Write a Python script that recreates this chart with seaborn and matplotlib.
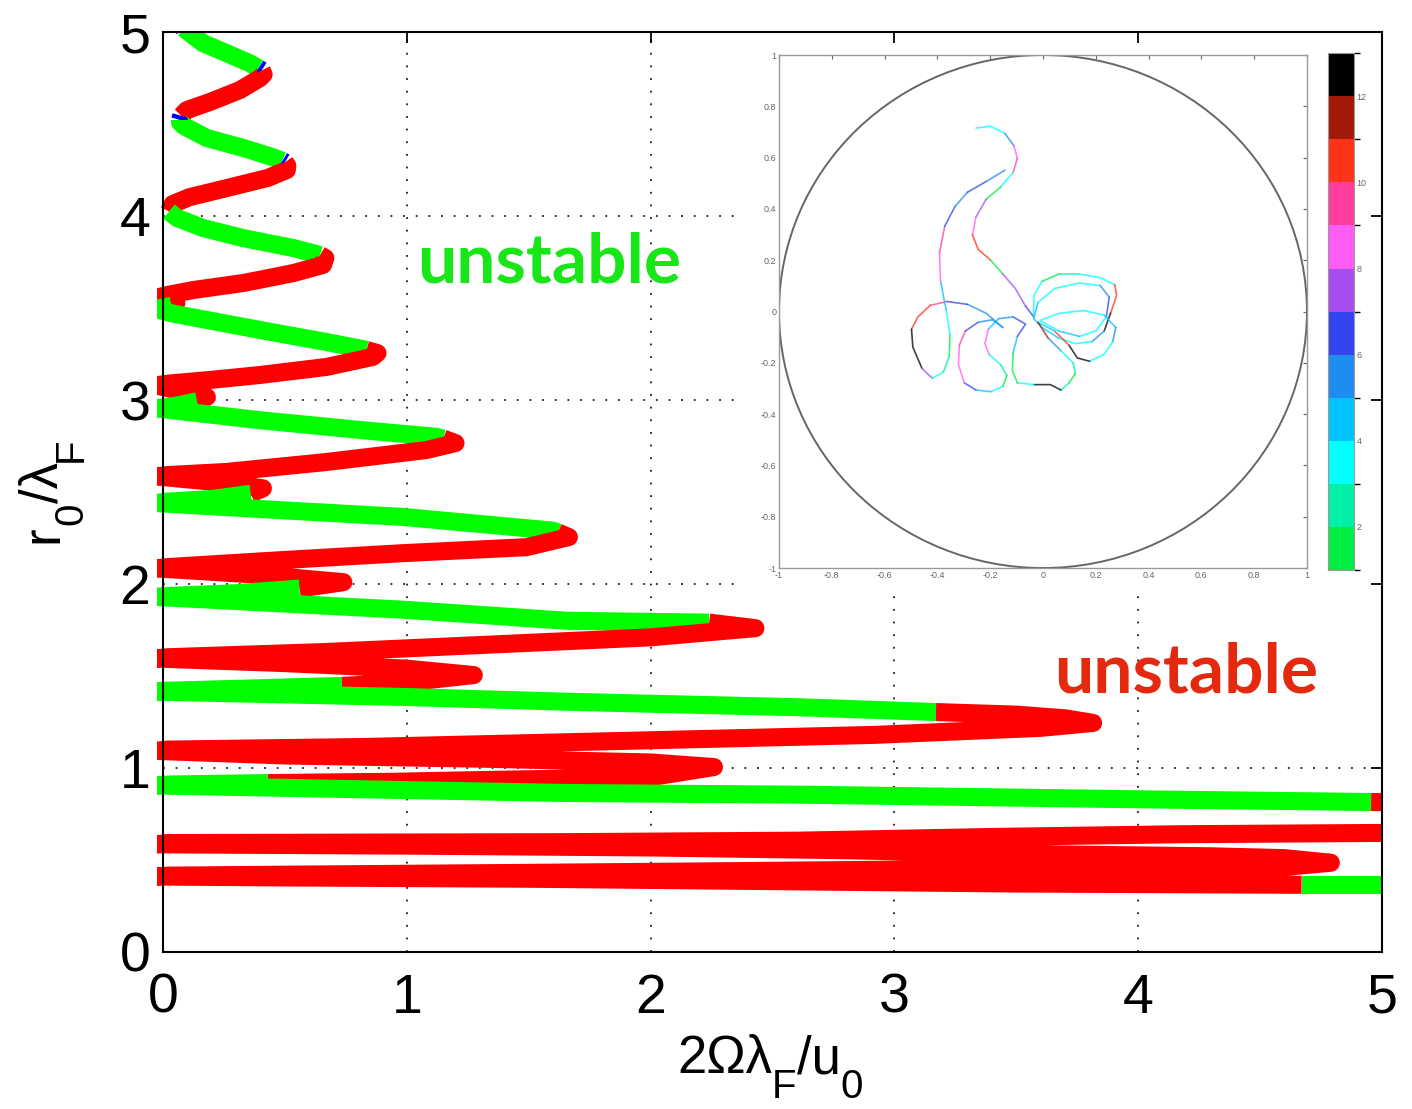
import matplotlib
matplotlib.use("Agg")
import matplotlib.pyplot as plt
import seaborn as sns
from matplotlib.patches import Rectangle, Circle
from matplotlib.colors import ListedColormap, BoundaryNorm
import matplotlib.cm as cm

sns.set_theme(style="white")
plt.rcParams['font.family'] = ['Liberation Sans', 'DejaVu Sans']
plt.rcParams['text.color'] = 'black'
plt.rcParams['axes.labelcolor'] = 'black'
plt.rcParams['xtick.color'] = 'black'
plt.rcParams['ytick.color'] = 'black'

# ---------------- main curve data (2*Omega*lambda_F/u0 , r0/lambda_F) ----------------
omega = [0.06, 0.085, 0.164, 0.26, 0.357, 0.392,
         0.405, 0.413, 0.398, 0.316, 0.193, 0.098, 0.075,
         0.07, 0.07, 0.085, 0.18, 0.33, 0.45, 0.49,
         0.5, 0.51, 0.508, 0.43, 0.262, 0.11, 0.04,
         0.025, 0.057, 0.164, 0.33, 0.535,
         0.645, 0.666, 0.656, 0.535, 0.33, 0.125, 0.015, -0.03, 0.055,
         0.035, -0.03, 0.04, 0.26, 0.467, 0.672, 0.808,
         0.835, 0.88, 0.86, 0.672, 0.398, 0.193, 0.03, -0.03, 0.08, 0.18,
         0.14, 0.05, -0.03, 0.1, 0.4, 0.81, 1.12,
         1.15, 1.2, 1.08, 0.67, 0.26, 0.02, -0.03, 0.25, 0.41,
         0.36, 0.2, 0.02, -0.03, 0.5, 0.99, 1.6,
         1.62, 1.665, 1.49, 0.99, 0.49, 0.02, -0.03, 0.4, 0.74,
         0.56, 0.3, 0.02, -0.03, 0.99, 1.66,
         2.24, 2.43, 2.0, 1.33, 0.66, 0.02, -0.03, 0.5, 1.0, 1.275, 1.0,
         0.734, 0.3, 0.02, -0.03, 0.99, 1.66, 2.61,
         3.17, 3.5, 3.7, 3.815, 3.6, 3.4, 2.92, 2.61, 1.66, 0.82, 0.02, -0.03, 0.5, 1.33,
         2.0, 2.26, 2.0, 1.33, 0.94,
         0.43, 0.02, -0.03, 0.99, 1.66, 2.61, 3.99,
         4.955, 5.15, 5.15, 5.0, 4.18, 3.4, 2.61, 1.66, 0.02, -0.03, 1.0, 2.0, 2.8, 3.5, 4.3,
         4.6, 4.79, 4.6, 4.0, 3.2, 2.4, 1.5, 0.5, 0.02, -0.03, 0.5, 1.5, 2.5, 3.5,
         4.67, 5.15]
r0 = [5.06, 5.02, 4.94, 4.886, 4.83, 4.803,
      4.792, 4.77, 4.75, 4.685, 4.62, 4.576, 4.545,
      4.522, 4.51, 4.49, 4.424, 4.37, 4.32, 4.30,
      4.292, 4.273, 4.25, 4.207, 4.152, 4.103, 4.065,
      4.025, 3.99, 3.935, 3.88, 3.826,
      3.788, 3.772, 3.734, 3.69, 3.636, 3.598, 3.57, 3.555, 3.528,
      3.512, 3.495, 3.47, 3.415, 3.364, 3.315, 3.28,
      3.272, 3.255, 3.234, 3.18, 3.136, 3.109, 3.09, 3.08, 3.045, 3.016,
      2.993, 2.968, 2.955, 2.935, 2.89, 2.837, 2.80,
      2.79, 2.766, 2.728, 2.663, 2.609, 2.592, 2.585, 2.55, 2.52,
      2.49, 2.462, 2.448, 2.44, 2.40, 2.364, 2.29,
      2.28, 2.255, 2.2, 2.168, 2.13, 2.092, 2.085, 2.05, 2.01,
      1.975, 1.95, 1.935, 1.93, 1.86, 1.80,
      1.79, 1.76, 1.71, 1.67, 1.63, 1.602, 1.595, 1.57, 1.54, 1.505, 1.465,
      1.446, 1.43, 1.42, 1.415, 1.386, 1.36, 1.33,
      1.304, 1.29, 1.27, 1.245, 1.218, 1.207, 1.18, 1.17, 1.14, 1.114, 1.10, 1.093, 1.068, 1.05,
      1.03, 1.005, 0.95, 0.935, 0.925,
      0.918, 0.91, 0.905, 0.88, 0.864, 0.855, 0.83,
      0.815, 0.812, 0.652, 0.647, 0.64, 0.625, 0.605, 0.597, 0.592, 0.585, 0.578, 0.568, 0.553, 0.533, 0.52,
      0.51, 0.485, 0.462, 0.455, 0.45, 0.44, 0.43, 0.42, 0.415, 0.41, 0.405, 0.398, 0.385, 0.372,
      0.365, 0.365]
# stability of the segment that starts at each point: g stable, r unstable, b neutral
state_runs = ['bggggb', 'rrrrrrb', 'ggggggb', 'rrrrrrr', 'ggggg', 'rrrrrrrrr', 'ggggggg',
              'rrrrrrrrrr', 'ggggggg', 'rrrrrrrrr', 'ggggggg', 'rrrrrrrrr', 'gggggg',
              'rrrrrrrrrrr', 'ggggggg', 'rrrrrrrrrrrrrrrrrrr', 'ggggggg',
              'rrrrrrrrrrrrrrrrrrrrrrrrrrrrr', 'gg']
state = list(''.join(state_runs))

# ---------------- inset trajectory (x/R, y/R) with colour level 1..12 ----------------
traj_x = [-0.254, -0.199, -0.144, -0.110, -0.097, -0.113, -0.160, -0.215, -0.254, -0.267, -0.246,
          -0.199, -0.152, -0.105, -0.066, -0.035,
          -0.035, -0.003, 0.060, 0.138, 0.217, 0.272, 0.279, 0.256, 0.232, 0.185, 0.122, 0.060,
          -0.003, -0.035,
          -0.019, 0.044, 0.138, 0.217, 0.251, 0.240, 0.200, 0.138, 0.060, -0.011,
          0.060, 0.154, 0.232, 0.276, 0.264, 0.232, 0.177, 0.130, 0.099, 0.044, -0.019,
          0.020, 0.068, 0.115, 0.122, 0.099, 0.068, 0.028, -0.035, -0.097, -0.116, -0.113, -0.097, -0.066,
          -0.113, -0.168, -0.207, -0.220, -0.204, -0.160, -0.137, -0.152, -0.199, -0.254, -0.298,
          -0.320, -0.317, -0.294, -0.246, -0.192, -0.152, -0.215,
          -0.286, -0.364, -0.427, -0.474, -0.498, -0.493, -0.458, -0.419, -0.377, -0.355, -0.352,
          -0.367, -0.388, -0.392, -0.372, -0.333, -0.286, -0.215, -0.144]
traj_y = [0.715, 0.722, 0.694, 0.646, 0.597, 0.542, 0.486, 0.438, 0.368, 0.299, 0.243,
          0.201, 0.146, 0.090, 0.021, -0.021,
          0.0625, 0.118, 0.146, 0.146, 0.132, 0.104, 0.0625, -0.007, -0.076, -0.118, -0.125, -0.104,
          -0.0625, -0.028,
          0.035, 0.090, 0.111, 0.101, 0.056, -0.021, -0.076, -0.097, -0.076, -0.035,
          -0.007, 0.004, -0.014, -0.0625, -0.118, -0.167, -0.194, -0.181, -0.132, -0.076, -0.042,
          -0.104, -0.153, -0.201, -0.243, -0.278, -0.306, -0.285, -0.285, -0.278, -0.229, -0.160, -0.097, -0.049,
          -0.021, -0.028, -0.069, -0.125, -0.167, -0.208, -0.250, -0.292, -0.3125, -0.306, -0.278,
          -0.208, -0.132, -0.076, -0.042, -0.032, -0.0625, -0.007,
          0.028, 0.039, 0.024, -0.021, -0.069, -0.139, -0.222, -0.260, -0.236, -0.174, -0.090,
          0.007, 0.118, 0.229, 0.333, 0.410, 0.465, 0.507, 0.551]
traj_c = [3, 3, 5, 8, 9, 3, 1, 7, 8, 10, 10, 1, 7, 7, 6, 3,
          3, 1, 2, 3, 3, 10, 10, 12, 5, 3, 3, 4, 4, 4,
          3, 3, 3, 5, 6, 3, 3, 4, 3, 3,
          3, 3, 4, 5, 3, 3, 12, 12, 10, 4, 11,
          5, 3, 2, 1, 2, 12, 12, 3, 1, 1, 4, 6, 6,
          5, 4, 8, 8, 3, 2, 1, 3, 4, 6, 8, 8, 9, 6, 5, 4, 5, 5,
          6, 9, 10, 10, 12, 12, 7, 3, 2, 1, 3, 4, 8, 9, 6, 5, 6, 5, 5]

level_colors = ['#00ee44', '#00f0a8', '#00ffff', '#00c4ff', '#1e8cf0', '#3344ee',
                '#a64df0', '#ff5cf5', '#ff3d9c', '#ff3319', '#a31a0a', '#000000']
level_bounds = list(range(1, 14))
cbar_ticks = [2, 4, 6, 8, 10, 12]
inset_ticks = [-1, -0.8, -0.6, -0.4, -0.2, 0, 0.2, 0.4, 0.6, 0.8, 1]
inset_ticklabels = ['-1', '-0.8', '-0.6', '-0.4', '-0.2', '0', '0.2', '0.4', '0.6', '0.8', '1']

# axis labels as (text, is_subscript) pieces
xlabel_parts = [('2Ωλ', False), ('F', True), ('/u', False), ('0', True)]
ylabel_parts = [('r', False), ('0', True), ('/λ', False), ('F', True)]

state_colors = {'g': '#00ff00', 'r': '#ff0000', 'b': '#0000ff'}


def runs(xs, ys, cs):
    out = []
    start = 0
    n = len(xs)
    for i in range(1, n):
        if i == n - 1 or cs[i] != cs[start]:
            out.append((xs[start:i + 1], ys[start:i + 1], cs[start]))
            start = i
    return out


W, H = 1412, 1109
fig = plt.figure(figsize=(W / 100, H / 100), dpi=100)
ax = fig.add_axes([0.1154, 0.1416, 0.8634, 0.8295])
ax.set_facecolor('white')

clip_rect = Rectangle((-0.005, 0.0), 1.005, 1.0, transform=ax.transAxes)
n_main = min(len(omega), len(r0), len(state))
for xs, ys, c in runs(omega[:n_main], r0[:n_main], state[:n_main]):
    sns.lineplot(x=xs, y=ys, ax=ax, sort=False, estimator=None, color=state_colors[c],
                 linewidth=13, solid_capstyle='butt', solid_joinstyle='round', zorder=2)
    ax.lines[-1].set_clip_path(clip_rect)

ax.set_xlim(0, 5)
ax.set_ylim(0, 5)
ax.set_xticks(range(6))
ax.set_yticks(range(6))
ax.set_axisbelow(False)
for v in range(1, 5):
    ax.axvline(v, color='k', lw=1.3, ls=(0, (1, 6)), zorder=0.5)
    ax.axhline(v, color='k', lw=1.3, ls=(0, (1, 6)), zorder=0.5)
ax.add_patch(Rectangle((0.477, 0.391), 0.52, 0.606, transform=ax.transAxes,
                       facecolor='white', edgecolor='none', zorder=1))
for s in ax.spines.values():
    s.set_color('black')
    s.set_linewidth(1.5)
ax.tick_params(direction='in', length=8, width=1.3, top=True, right=True,
               labelsize=40, colors='black')
ax.tick_params(axis='x', pad=15)
ax.tick_params(axis='y', pad=9)
ax.set_xlabel('')
ax.set_ylabel('')

ax.text(1.583, 3.641, 'unstable', color='#19e619', fontsize=50, fontweight='bold',
        family=['Lato', 'DejaVu Sans'], ha='center', va='baseline', zorder=3)
ax.text(4.198, 1.408, 'unstable', color='#e5290f', fontsize=50, fontweight='bold',
        family=['Lato', 'DejaVu Sans'], ha='center', va='baseline', zorder=3)

# ---------------- axis labels with MATLAB-like large, deep subscripts ----------------
renderer = fig.canvas.get_renderer()
MAIN_SIZE, SUB_SIZE, SUB_DROP = 38, 29, 25


def part_widths(parts):
    ws = []
    for s, sub in parts:
        t = fig.text(0, 0, s, fontsize=SUB_SIZE if sub else MAIN_SIZE)
        ws.append(t.get_window_extent(renderer).width)
        t.remove()
    return ws


wx = part_widths(xlabel_parts)
pos = 770 - sum(wx) / 2
for (s, sub), w in zip(xlabel_parts, wx):
    yb = 1073 + (SUB_DROP if sub else 0)
    fig.text(pos / W, (H - yb) / H, s, fontsize=SUB_SIZE if sub else MAIN_SIZE,
             ha='left', va='baseline', color='black')
    pos += w

wy = part_widths(ylabel_parts)
pos = 490 + sum(wy) / 2
for (s, sub), w in zip(ylabel_parts, wy):
    xb = 57 + (SUB_DROP if sub else 0)
    fig.text(xb / W, (H - pos) / H, s, fontsize=SUB_SIZE if sub else MAIN_SIZE,
             ha='left', va='baseline', rotation=90, rotation_mode='anchor', color='black')
    pos -= w

# ---------------- inset ----------------
axin = fig.add_axes([0.5517, 0.4878, 0.3739, 0.4626])
axin.set_facecolor('white')
axin.add_patch(Circle((0, 0), 1.0, fill=False, edgecolor='#666666', lw=1.4))
n_tr = min(len(traj_x), len(traj_y), len(traj_c))
for xs, ys, c in runs(traj_x[:n_tr], traj_y[:n_tr], traj_c[:n_tr]):
    sns.lineplot(x=xs, y=ys, ax=axin, sort=False, estimator=None,
                 color=level_colors[c - 1], linewidth=1.2, alpha=0.75)
axin.set_xlim(-1, 1)
axin.set_ylim(-1, 1)
axin.set_xticks(inset_ticks)
axin.set_yticks(inset_ticks)
axin.set_xticklabels(inset_ticklabels)
axin.set_yticklabels(inset_ticklabels)
axin.set_xlabel('')
axin.set_ylabel('')
axin.tick_params(direction='in', length=3, width=0.8, top=True, right=True,
                 labelsize=6.5, colors='#666666', pad=2)
for s in axin.spines.values():
    s.set_color('#999999')
    s.set_linewidth(1.0)

cax = fig.add_axes([0.9405, 0.486, 0.0184, 0.466])
cmap = ListedColormap(level_colors)
norm = BoundaryNorm(level_bounds, cmap.N)
cb = fig.colorbar(cm.ScalarMappable(norm=norm, cmap=cmap), cax=cax, ticks=cbar_ticks)
cb.outline.set_edgecolor('#999999')
cb.outline.set_linewidth(0.8)
cax.tick_params(direction='in', length=3, width=0.8, labelsize=6.5, colors='#666666', pad=2)

fig.savefig('out.png', dpi=100, facecolor='white')
